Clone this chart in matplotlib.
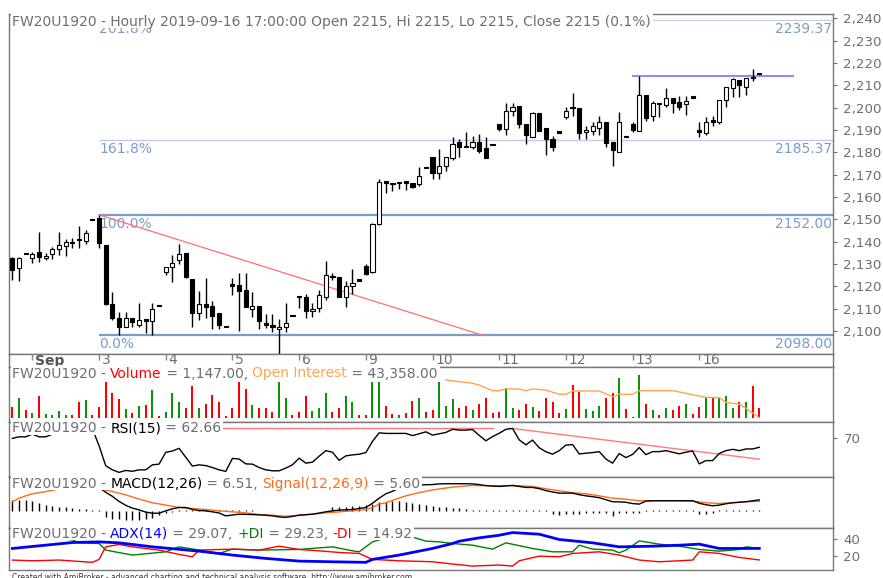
import matplotlib
matplotlib.use("Agg")
import matplotlib.pyplot as plt
from matplotlib.patches import Rectangle
from matplotlib.font_manager import FontProperties

W, H = 883, 578

# ---- price bars (hourly, FW20U1920) ----
opens = [2132.8, 2128.4, 2134.5, 2132.5, 2135.5, 2132.5, 2134.5, 2136.7, 2138.2, 2139.2,
         2140.7, 2140.4, 2149.7, 2150.7, 2138.5, 2111.9, 2105.7, 2101.6, 2105.7, 2102.7,
         2104.6, 2104.6, 2111.2, 2126.6, 2128.5, 2131.8, 2134.8, 2123.1, 2107.9, 2111.9,
         2111.2, 2107.9, 2101.6, 2120.3, 2120.6, 2118.4, 2109.9, 2111.2, 2103.7, 2102.7,
         2100.8, 2101.6, 2106.7, 2115.1, 2115.1, 2109.0, 2110.2, 2115.1, 2124.0, 2124.0,
         2115.1, 2120.2, 2122.5, 2129.2, 2126.6, 2147.9, 2166.4, 2165.8, 2166.1, 2166.4,
         2166.4, 2165.8, 2172.8, 2177.8, 2170.9, 2173.9, 2177.3, 2184.8, 2182.2, 2182.5,
         2184.8, 2181.8, 2183.3, 2192.7, 2190.4, 2198.6, 2200.7, 2192.7, 2186.7, 2197.7,
         2190.7, 2185.8, 2188.8, 2195.7, 2199.6, 2199.7, 2189.3, 2189.5, 2190.7, 2193.7,
         2184.8, 2180.0, 2186.7, 2192.7, 2189.5, 2205.7, 2196.2, 2201.6, 2201.2, 2204.5,
         2202.7, 2201.5, 2204.5, 2189.2, 2188.8, 2193.7, 2193.7, 2203.4, 2208.6, 2212.4,
         2209.4, 2213.1, 2215.0]
highs = [2133.3, 2133.3, 2134.5, 2135.5, 2144.2, 2134.8, 2137.7, 2144.2, 2141.0, 2141.5,
         2147.2, 2145.2, 2149.7, 2151.9, 2138.5, 2117.3, 2108.3, 2108.3, 2106.0, 2112.4,
         2104.6, 2112.4, 2111.2, 2128.8, 2134.0, 2138.8, 2134.8, 2123.1, 2118.1, 2123.9,
         2113.6, 2107.9, 2101.6, 2123.9, 2125.8, 2125.8, 2117.6, 2111.2, 2107.6, 2107.6,
         2105.2, 2112.7, 2106.7, 2115.1, 2116.6, 2112.7, 2118.4, 2131.5, 2125.8, 2124.0,
         2122.5, 2127.8, 2122.5, 2129.8, 2148.2, 2168.0, 2166.9, 2165.8, 2166.4, 2166.9,
         2166.4, 2173.3, 2172.8, 2177.8, 2181.5, 2177.8, 2187.0, 2185.8, 2188.9, 2187.4,
         2188.2, 2187.0, 2183.3, 2192.7, 2201.9, 2201.9, 2200.7, 2192.7, 2198.2, 2197.7,
         2190.7, 2187.3, 2188.8, 2200.1, 2206.6, 2199.7, 2191.8, 2193.7, 2196.2, 2193.7,
         2184.8, 2198.2, 2186.7, 2193.7, 2214.3, 2205.7, 2203.1, 2201.9, 2208.6, 2204.5,
         2205.2, 2205.4, 2204.5, 2193.7, 2195.9, 2196.2, 2203.4, 2209.4, 2213.1, 2212.4,
         2213.1, 2217.1, 2215.0]
lows = [2122.8, 2122.4, 2134.5, 2130.6, 2131.0, 2131.8, 2132.2, 2134.0, 2133.7, 2137.0,
        2137.0, 2138.8, 2149.7, 2137.3, 2111.5, 2104.9, 2098.2, 2101.6, 2102.0, 2102.0,
        2099.0, 2098.2, 2111.2, 2125.1, 2122.1, 2129.8, 2123.6, 2102.0, 2104.9, 2105.7,
        2100.7, 2100.7, 2101.6, 2116.1, 2100.0, 2110.9, 2106.4, 2100.7, 2101.2, 2099.7,
        2085.0, 2099.7, 2106.7, 2110.4, 2105.7, 2106.4, 2108.7, 2113.9, 2122.8, 2115.1,
        2110.9, 2116.6, 2122.5, 2125.1, 2125.8, 2147.5, 2161.9, 2162.8, 2163.4, 2163.1,
        2163.9, 2164.9, 2172.8, 2167.9, 2167.9, 2171.8, 2176.6, 2177.8, 2182.2, 2181.5,
        2179.5, 2177.3, 2183.3, 2189.5, 2187.7, 2196.2, 2190.7, 2183.7, 2186.7, 2189.5,
        2178.8, 2180.7, 2188.8, 2194.9, 2196.2, 2186.0, 2186.0, 2187.7, 2187.7, 2182.2,
        2173.9, 2180.0, 2186.7, 2189.2, 2189.5, 2194.0, 2194.0, 2196.0, 2200.1, 2197.7,
        2198.9, 2196.7, 2204.5, 2187.0, 2187.7, 2191.8, 2192.7, 2200.4, 2204.6, 2204.9,
        2205.6, 2212.1, 2215.0]
closes = [2127.3, 2132.8, 2134.5, 2134.5, 2133.3, 2133.7, 2136.6, 2138.5, 2139.7, 2139.2,
          2140.7, 2143.7, 2149.7, 2139.2, 2112.2, 2105.7, 2101.6, 2105.7, 2103.9, 2104.9,
          2104.6, 2109.7, 2111.2, 2128.8, 2130.6, 2134.5, 2124.3, 2107.9, 2111.9, 2110.9,
          2106.7, 2102.7, 2101.6, 2120.3, 2118.1, 2110.9, 2111.2, 2104.5, 2102.7, 2101.6,
          2102.0, 2103.7, 2106.7, 2115.1, 2108.9, 2109.9, 2116.1, 2125.1, 2124.0, 2115.1,
          2120.2, 2121.3, 2122.5, 2125.4, 2147.9, 2166.6, 2166.4, 2165.8, 2166.4, 2166.4,
          2164.6, 2169.5, 2172.8, 2170.6, 2173.9, 2177.8, 2183.6, 2182.5, 2182.2, 2184.8,
          2180.7, 2177.6, 2183.3, 2190.4, 2198.6, 2200.4, 2192.5, 2187.7, 2197.7, 2189.5,
          2185.8, 2182.5, 2188.8, 2198.6, 2199.6, 2188.8, 2189.7, 2191.8, 2193.7, 2184.0,
          2181.0, 2193.7, 2186.7, 2190.0, 2205.7, 2195.2, 2202.2, 2201.6, 2204.5, 2202.2,
          2200.4, 2203.1, 2204.5, 2189.2, 2193.7, 2193.7, 2203.4, 2209.4, 2212.7, 2210.1,
          2213.1, 2213.1, 2215.0]
volumes = [1261, 2292, 879, 497, 2521, 382, 306, 764, 306, 306,
           1834, 2025, 306, 1261, 4126, 2789, 2139, 993, 497, 1375,
           1452, 3171, 229, 688, 2789, 1834, 1146, 3667, 1070, 1528,
           2598, 1757, 229, 1146, 4126, 3285, 1452, 1146, 1146, 688,
           4126, 2292, 306, 688, 2521, 764, 1146, 2789, 688, 1070,
           2521, 1834, 306, 306, 4126, 4126, 1299, 382, 306, 497,
           1910, 2292, 688, 879, 4126, 1337, 2139, 1070, 1375, 879,
           1566, 2216, 497, 688, 3362, 1146, 879, 1566, 1261, 764,
           2216, 1757, 573, 993, 3744, 2903, 993, 764, 1337, 2292,
           2789, 4584, 993, 115, 4890, 1566, 879, 306, 1146, 879,
           1375, 1566, 420, 1261, 2330, 2330, 2216, 2483, 1146, 1757,
           1757, 3667, 1147]

# open interest (visible part, right of the panel title)
oi_bars = [65, 69, 70, 72, 73, 74, 76, 77, 78, 80, 82, 83, 84, 88, 90, 91, 93, 94,
           99, 101, 104, 106, 107, 109, 110, 112]
oi_vals = [44866, 44734, 44666, 44438, 44438, 44506, 44506, 44438, 44506, 44466, 44294,
           44294, 44426, 44426, 44198, 44294, 44294, 44438, 44438, 44334, 44174, 44158,
           43974, 43894, 43734, 43358]

rsi = [70.0, 71.3, 71.3, 73.5, 71.3, 71.3, 73.5, 75.0, 76.0, 75.5,
       76.0, 77.0, 78.0, 64.0, 47.5, 44.1, 42.0, 43.6, 42.9, 44.1,
       44.1, 48.2, 48.8, 58.5, 59.6, 61.8, 54.5, 47.2, 48.2, 47.6,
       46.0, 44.1, 42.8, 53.5, 53.0, 49.0, 48.8, 46.0, 44.1, 43.3,
       43.3, 45.5, 48.2, 53.7, 49.6, 50.4, 55.3, 59.9, 58.6, 51.9,
       55.6, 56.4, 57.0, 58.3, 67.5, 74.6, 74.1, 74.1, 74.1, 74.1,
       72.3, 73.8, 75.4, 72.7, 73.8, 74.9, 77.5, 76.8, 76.8, 77.3,
       72.5, 68.0, 71.5, 74.2, 77.5, 78.2, 68.8, 64.7, 68.6, 62.3,
       59.0, 57.0, 59.9, 64.5, 64.9, 57.2, 57.8, 58.3, 59.1, 53.0,
       49.6, 57.5, 54.2, 56.8, 62.5, 56.6, 59.1, 59.1, 59.9, 58.6,
       57.3, 58.6, 59.6, 49.0, 51.7, 51.7, 57.6, 59.9, 61.0, 59.9,
       61.3, 61.3, 62.66]
rsi_line1 = ([12, 72], [78.2, 78.2])
rsi_line2 = ([75, 112], [78.2, 52.9])

macd_bars = [0, 6, 12, 13, 14, 15, 16, 17, 18, 19, 20, 21, 22, 23, 24, 25, 26, 27, 28, 29,
             30, 31, 32, 33, 34, 35, 36, 37, 38, 39, 40, 41, 42, 43, 44, 45, 46, 47, 48, 49,
             50, 51, 52, 53, 54, 55, 56, 57, 58, 59, 60, 61, 62, 63, 64, 65, 66, 67, 68, 69,
             70, 71, 72, 73, 74, 75, 76, 77, 78, 79, 80, 81, 82, 83, 84, 85, 86, 87, 88, 89,
             90, 91, 92, 93, 94, 95, 96, 102, 103, 104, 105, 106, 107, 108, 109, 110, 111, 112]
macd_vals = [14.5, 16.0, 15.5, 14.0, 11.0, 8.6, 5.6, 3.3, 1.6, 0.6, -0.8, -1.4, -1.4, 0.0, 1.2,
             2.0, 2.0, 0.8, 0.2, 0.0, -0.6, -1.3, -3.0, -2.5, -2.0, -2.1, -2.2, -2.4, -2.6, -3.0,
             -3.6, -3.9, -3.3, -2.6, -2.3, -2.0, -1.3, -0.6, 0.0, 0.4, 0.6, 0.8, 1.4, 2.0, 4.5,
             7.5, 10.1, 11.6, 13.5, 14.5, 15.0, 15.3, 15.5, 15.6, 16.0, 16.1, 16.1, 16.1, 16.1,
             16.0, 15.6, 15.0, 14.7, 14.5, 14.8, 15.1, 14.5, 13.9, 13.9, 13.2, 12.0, 11.2, 10.5,
             10.5, 10.5, 9.6, 8.9, 8.4, 7.8, 6.6, 5.4, 5.3, 5.1, 4.3, 4.0, 5.8, 6.0, 6.0, 4.5,
             3.6, 3.0, 3.4, 4.2, 4.8, 5.1, 5.4, 6.0, 6.51]
signal_bars = [0, 1, 2, 3, 4, 5, 7, 10, 13, 15, 17, 19, 21, 23, 25, 27, 29, 31, 33, 35, 37, 39,
               41, 43, 45, 47, 49, 51, 53, 54, 55, 56, 57, 59, 61, 63, 66, 69, 71, 76, 78, 80,
               82, 84, 86, 88, 90, 92, 94, 100, 102, 104, 106, 108, 110, 112]
signal_vals = [5.4, 7.5, 8.9, 10.1, 10.8, 11.4, 13.0, 13.8, 13.0, 11.5, 9.5, 7.0, 4.8, 3.4,
               2.0, 1.4, 0.8, 0.0, -0.6, -1.2, -2.2, -2.6, -3.2, -2.6, -2.0, -1.2, -0.6, 0.0,
               0.8, 2.0, 4.0, 4.8, 6.2, 8.9, 10.8, 12.4, 14.1, 15.1, 14.9, 14.9, 14.5, 13.1,
               11.9, 10.8, 10.1, 8.9, 7.5, 6.9, 6.0, 6.0, 5.8, 4.8, 4.4, 4.8, 5.4, 5.6]
macd_hist = [6.4, 6.4, 6.4, 6.0, 4.6, 3.6, 3.0, 2.4, 2.0, 1.4,
             1.0, 1.0, 0.4, 0.4, -3.6, -4.6, -5.0, -5.6, -5.6, -5.6,
             -5.0, -4.0, -2.6, -1.4, -0.4, 0.3, 0.3, 0.3, 0.3, 0.3,
             0.3, 0.3, 0.3, 0.3, 0.3, 0.3, 0.3, -0.3, -0.3, -0.3,
             -0.3, -0.3, -0.3, -0.3, -0.3, -0.3, -0.3, -0.3, 2.0, 2.0,
             2.0, 2.6, 2.6, 3.4, 4.0, 5.0, 5.4, 6.0, 6.0, 5.4,
             4.6, 4.0, 3.4, 2.6, 2.0, 2.0, 1.4, 1.4, 1.0, 0.6,
             0.3, 0.3, 0.3, 0.3, 0.3, 0.3, 0.3, 0.3, 0.3, 0.3,
             0.3, -2.0, -2.6, -2.0, -2.0, -2.0, -1.4, -1.4, -1.4, -1.4,
             -3.0, -1.4, -1.4, -1.4, -1.4, 0.3, 0.3, 0.3, 0.3, 0.3,
             0.3, 0.3, 0.3, -2.0, -2.0, -1.4, 0.3, 0.3, 0.3, 0.3,
             0.3, 0.3, 0.3]

adx_bars = [0, 9, 13, 16, 21, 28, 33, 38, 43, 48, 53, 54, 58, 63, 66, 67, 70, 73, 75, 79,
            82, 87, 91, 96, 100, 103, 106, 112]
adx_vals = [29.0, 36.3, 37.1, 35.9, 31.0, 25.7, 20.9, 16.8, 13.5, 12.7, 12.0, 15.6, 20.9,
            29.0, 35.1, 37.9, 42.0, 45.2, 48.5, 46.5, 40.0, 35.9, 31.0, 31.8, 33.0, 34.3,
            29.0, 29.07]
pdi_bars = [0, 5, 9, 10, 13, 14, 18, 23, 25, 28, 31, 33, 37, 43, 48, 51, 52, 54, 56, 60, 62,
            64, 66, 69, 72, 74, 78, 81, 84, 85, 87, 90, 91, 92, 94, 97, 100, 103, 106, 109,
            110, 112]
pdi_vals = [42.0, 43.0, 39.5, 35.9, 35.1, 27.0, 20.9, 24.9, 31.0, 27.0, 22.9, 28.2, 27.0,
            27.8, 31.0, 26.1, 24.9, 37.1, 42.0, 43.0, 38.0, 37.1, 35.1, 33.0, 28.2, 35.9,
            29.0, 24.9, 24.9, 33.0, 28.2, 27.0, 23.7, 27.0, 38.3, 34.3, 31.8, 27.8, 25.7,
            27.8, 31.0, 29.23]
mdi_bars = [0, 3, 7, 12, 13, 14, 16, 18, 22, 25, 27, 28, 33, 37, 40, 43, 46, 49, 52, 54,
            58, 63, 66, 69, 73, 75, 76, 79, 82, 84, 88, 91, 94, 97, 100, 102, 103, 106, 109, 112]
mdi_vals = [14.8, 13.9, 14.8, 12.0, 15.6, 31.0, 33.9, 31.0, 27.0, 21.7, 18.8, 27.0, 28.2,
            27.0, 31.8, 27.8, 26.1, 24.1, 22.9, 15.6, 13.9, 12.7, 9.9, 7.4, 8.7, 7.4, 13.9,
            19.6, 18.8, 22.9, 24.9, 20.9, 14.8, 12.7, 13.9, 14.8, 24.9, 22.9, 18.0, 14.92]

# fibonacci levels, trend lines
fib_levels = [2239.37, 2185.37, 2152.00, 2098.00]
fib_labels = ["261.8%", "161.8%", "100.0%", "0.0%"]
fib_start = 13
trend_line = ([13, 70.6], [2152.0, 2098.0])
resist_line = ([93.1, 117.0], [2214.2, 2214.2])

day_starts = [3, 13, 23, 33, 43, 53, 63, 73, 83, 93, 103]
day_labels = ["Sep", "3", "4", "5", "6", "9", "10", "11", "12", "13", "16"]

GRAY = "#6e6e6e"
FIBC = "#7b9cc9"
XMIN, XMAX = -0.5, 123.05
n = len(closes)
xs = list(range(n))

fig = plt.figure(figsize=(W / 100, H / 100), dpi=100)


def panel(top, bottom):
    a = fig.add_axes([9 / W, 1 - bottom / H, 824 / W, (bottom - top) / H])
    a.set_xlim(XMIN, XMAX)
    a.set_xticks([])
    a.yaxis.tick_right()
    a.tick_params(axis="y", colors=GRAY, labelcolor=GRAY, labelsize=9.6, length=3, pad=4.5)
    for s in a.spines.values():
        s.set_color("#777777")
        s.set_linewidth(1.0)
    return a


# ---------------- main price panel ----------------
ax = panel(14, 354)
ax.set_ylim(2089.7, 2241.9)
ax.set_yticks(range(2100, 2241, 10))
ax.set_yticklabels(["{:,}".format(v) for v in range(2100, 2241, 10)])

for lvl, lab, lw, col in zip(fib_levels, fib_labels, [1, 1, 1.6, 1.6],
                             ["#c4d3ea", "#bccde6", FIBC, FIBC]):
    ax.hlines(lvl, fib_start, XMAX, color=col, lw=lw, zorder=1)
    ax.text(fib_start, lvl - 0.9, lab, color=FIBC, fontsize=10, va="top", ha="left", zorder=1)
    ax.text(XMAX - 0.15, lvl - 0.9, "%.2f" % lvl, color=FIBC, fontsize=10, va="top",
            ha="right", zorder=1)

ax.plot(trend_line[0], trend_line[1], color="#ff7070", lw=0.9, zorder=2)
ax.plot(resist_line[0], resist_line[1], color="#8c8cff", lw=1.5, zorder=2)

ax.vlines(xs, lows, highs, color="black", lw=1, zorder=3)
body_lo = [min(o, c) for o, c in zip(opens, closes)]
body_h = [max(abs(c - o), 0.6) for o, c in zip(opens, closes)]
body_fc = ["white" if c > o else "black" for o, c in zip(opens, closes)]
ax.bar(xs, body_h, bottom=body_lo, width=0.62, color=body_fc, edgecolor="black",
       linewidth=0.8, zorder=4)

# ---------------- date strip ----------------
axd = panel(354, 367)
axd.set_ylim(0, 1)
axd.set_yticks([])
axd.vlines(day_starts, 0.55, 1.0, color="#888888", lw=1)
for d, lab in zip(day_starts, day_labels):
    bold = lab == "Sep"
    axd.text(d + 0.4, 0.5, lab, fontsize=10, va="center", ha="left",
             color="#555555" if bold else GRAY, fontweight="bold" if bold else "normal",
             clip_on=False)

# ---------------- volume + open interest ----------------
axv = panel(367, 422)
axv.set_ylim(-493, 5810)
axv.set_yticks([])
vcol = ["#0a940a" if c > o else "#ff0000" for o, c in zip(opens, closes)]
axv.bar(xs, volumes, width=0.3, color=vcol, linewidth=0)
axo = axv.twinx()
axo.set_ylim(43186, 45386)
axo.set_xlim(XMIN, XMAX)
axo.axis("off")
axo.plot(oi_bars, oi_vals, color="#ffa64d", lw=1)

# ---------------- RSI ----------------
axr = panel(422, 477)
axr.set_ylim(38.2, 83.5)
axr.set_yticks([70])
axr.plot(rsi_line1[0], rsi_line1[1], color="#ff7a7a", lw=1)
axr.plot(rsi_line2[0], rsi_line2[1], color="#ff7a7a", lw=1)
axr.plot(xs, rsi, color="black", lw=1)

# ---------------- MACD ----------------
axm = panel(477, 528)
axm.set_ylim(-10.2, 20.1)
axm.set_yticks([])
axm.vlines(xs, 0, macd_hist, color="black", lw=1)
axm.plot(signal_bars, signal_vals, color="#ff6a1a", lw=1)
axm.plot(macd_bars, macd_vals, color="black", lw=1)

# ---------------- ADX ----------------
axa = panel(528, 570)
axa.set_ylim(2.6, 54.1)
axa.set_yticks([20, 40])
axa.plot(pdi_bars, pdi_vals, color="#008000", lw=1)
axa.plot(mdi_bars, mdi_vals, color="#ff0000", lw=1)
axa.plot(adx_bars, adx_vals, color="#0000ff", lw=2)

# ---------------- panel titles ----------------
fp = FontProperties(family="DejaVu Sans", size=10)
rend = fig.canvas.get_renderer()


def tw(s):
    w1 = rend.get_text_width_height_descent(s + "|", fp, ismath=False)[0]
    w0 = rend.get_text_width_height_descent("|", fp, ismath=False)[0]
    return w1 - w0


def title(pieces, base, box_top, box_bot):
    x0 = 12
    pre = ""
    for txt, col in pieces:
        fig.text((x0 + tw(pre)) / W, 1 - base / H, txt, color=col, fontproperties=fp,
                 va="baseline", ha="left", zorder=6)
        pre += txt
    x1 = x0 + tw(pre) + 2
    fig.add_artist(Rectangle((10.5 / W, 1 - box_bot / H), (x1 - 10.5) / W,
                             (box_bot - box_top) / H, transform=fig.transFigure,
                             facecolor="white", edgecolor="none", zorder=5))


title([("FW20U1920 - Hourly 2019-09-16 17:00:00 Open 2215, Hi 2215, Lo 2215, "
        "Close 2215 (0.1%)", GRAY)], 26, 12, 27.5)
title([("FW20U1920 - ", GRAY), ("Volume", "#ff0000"), (" = 1,147.00, ", GRAY),
       ("Open Interest", "#ffa64d"), (" = 43,358.00", GRAY)], 377.5, 366, 379.5)
title([("FW20U1920 - ", GRAY), ("RSI(15)", "black"), (" = 62.66", GRAY)], 432.5, 421, 434.5)
title([("FW20U1920 - ", GRAY), ("MACD(12,26)", "black"), (" = 6.51, ", GRAY),
       ("Signal(12,26,9)", "#ff6a1a"), (" = 5.60", GRAY)], 488, 476, 490)
title([("FW20U1920 - ", GRAY), ("ADX(14)", "#0000ff"), (" = 29.07, ", GRAY),
       ("+DI", "#008000"), (" = 29.23, ", GRAY), ("-DI", "#ff0000"), (" = 14.92", GRAY)],
      537.5, 527, 539.5)

fig.text(12 / W, 1 - 573.5 / H,
         "Created with AmiBroker - advanced charting and technical analysis software. "
         "http://www.amibroker.com", fontsize=5.5, color="#333333", va="top", ha="left")

fig.savefig("out.png", dpi=100)
